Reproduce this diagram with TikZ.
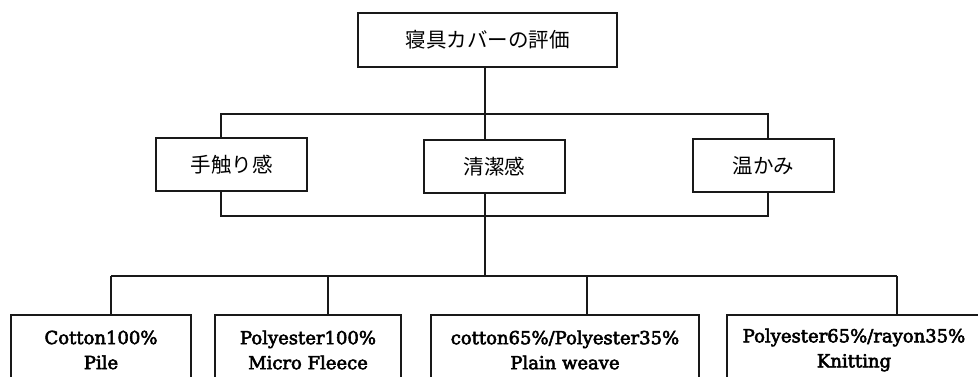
\documentclass[tikz,border=0pt]{standalone}
\usepackage{fontspec}
\setmainfont{DejaVu Serif}[RawFeature={embolden=3}]
\newfontfamily\jp{Noto Sans CJK JP}
\begin{document}
\begin{tikzpicture}[x=1pt,y=1pt,
  conn/.style={line width=2pt, draw=black!90},
  jbox/.style={draw=black!90, line width=1.6pt, fill=white, inner sep=0pt, font=\jp\fontsize{20.5}{24}\selectfont},
  ebox/.style={draw=black!90, line width=1.3pt, fill=white, inner sep=0pt, minimum height=70pt, align=center, font=\fontsize{18}{25}\selectfont}]
\useasboundingbox (0,0) rectangle (978,376);
\clip (0,0) rectangle (978,376);
% coordinates for the bracket and buses
\coordinate (btl) at (221,262);
\coordinate (bbr) at (768,160);
\coordinate (hub) at (485,100);
\coordinate (busL) at (111,100);
\coordinate (busR) at (897,100);
% connectors
\draw[conn] (btl) rectangle (bbr);
\draw[conn] (485,309) -- (hub);
\draw[conn] (busL) -- (busR);
% top
\node[jbox, minimum width=259pt, minimum height=54pt] (top) at (487.5,336) {寝具カバーの評価};
% middle
\node[jbox, minimum width=151pt, minimum height=53pt] (m1) at (231.5,211.5) {手触り感};
\node[jbox, minimum width=141pt, minimum height=53pt] (m2) at (494.5,209.5) {清潔感};
\node[jbox, minimum width=141pt, minimum height=53pt] (m3) at (763.5,210.5) {温かみ};
% bottom
\node[ebox, minimum width=180pt] (b1) at (101,26) {Cotton100\%\\Pile};
\node[ebox, minimum width=186pt] (b2) at (308,26) {Polyester100\%\\Micro Fleece};
\node[ebox, minimum width=268pt] (b3) at (565,26) {cotton65\%/Polyester35\%\\Plain weave};
\node[ebox, minimum width=254pt] (b4) at (854,26) {Polyester65\%/rayon35\%\\Knitting};
\draw[conn] (busL) -- (busL |- b1.north);
\draw[conn] (328,100) -- (328,61);
\draw[conn] (587,100) -- (587,61);
\draw[conn] (busR) -- (busR |- b4.north);
\end{tikzpicture}
\end{document}
